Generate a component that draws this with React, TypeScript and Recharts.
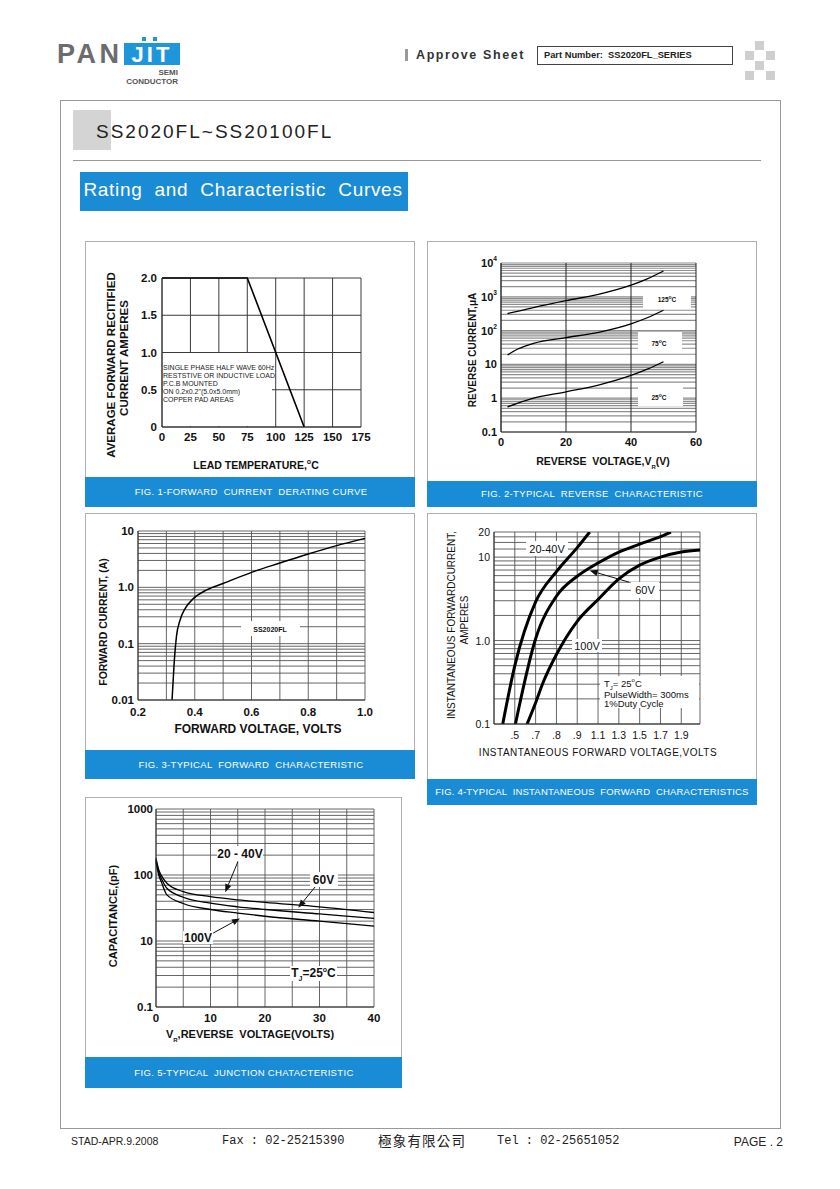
import React from 'react';
import { LineChart, Line, XAxis, YAxis, CartesianGrid, ReferenceLine } from 'recharts';

const SANS = '"Liberation Sans", Arial, Helvetica, sans-serif';
const BLUE = '#1a8cd6';

// ---------------- FIG 1 : forward current derating ----------------
const FIG1_TEMP_C = [0, 75, 125];
const FIG1_CURRENT_A = [2.0, 2.0, 0];
const FIG1_X_TICKS = [0, 25, 50, 75, 100, 125, 150, 175];
const FIG1_X_LABELS = ['0', '25', '50', '75', '100', '125', '150', '175'];
const FIG1_Y_TICKS = [0, 0.5, 1.0, 1.5, 2.0];
const FIG1_Y_LABELS = ['0', '0.5', '1.0', '1.5', '2.0'];
const FIG1_NOTE = [
  'SINGLE PHASE HALF WAVE 60Hz',
  'RESTSTIVE OR INDUCTIVE LOAD',
  'P.C.B MOUNTED',
  'ON 0.2x0.2"(5.0x5.0mm)',
  'COPPER PAD AREAS',
];

// ---------------- FIG 2 : reverse characteristic ----------------
const FIG2_VOLT = [2, 5, 10, 20, 30, 40, 45, 50];
const FIG2_I_125C = [320, 370, 480, 770, 1180, 2200, 3400, 5800];
const FIG2_I_75C = [19, 28, 42, 62, 89, 158, 240, 400];
const FIG2_I_25C = [0.55, 0.7, 1.0, 1.55, 2.45, 4.7, 7.2, 12];
const FIG2_X_TICKS = [0, 20, 40, 60];
const FIG2_X_LABELS = ['0', '20', '40', '60'];
const FIG2_Y_MAJOR = [0.1, 1, 10, 100, 1000, 10000];
const FIG2_Y_LABELS = ['0.1', '1', '10', '10^2', '10^3', '10^4'];

// ---------------- FIG 3 : forward characteristic ----------------
const FIG3_VOLT = [0.32, 0.327, 0.336, 0.348, 0.366, 0.395, 0.442, 0.5, 0.607, 0.7, 0.8, 0.9, 1.0];
const FIG3_CURRENT = [0.01, 0.042, 0.14, 0.26, 0.42, 0.63, 0.9, 1.17, 1.9, 2.7, 3.9, 5.5, 7.4];
const FIG3_X_TICKS = [0.2, 0.3, 0.4, 0.5, 0.6, 0.7, 0.8, 0.9, 1.0];
const FIG3_X_LABELS = ['0.2', '', '0.4', '', '0.6', '', '0.8', '', '1.0'];
const FIG3_Y_MAJOR = [0.01, 0.1, 1, 10];
const FIG3_Y_LABELS = ['0.01', '0.1', '1.0', '10'];

// ---------------- FIG 4 : instantaneous forward ----------------
const FIG4_TICK_VOLTS = [0.5, 0.7, 0.8, 0.9, 1.1, 1.3, 1.5, 1.7, 1.9];
const FIG4_TICK_LABELS = ['.5', '.7', '.8', '.9', '1.1', '1.3', '1.5', '1.7', '1.9'];
const FIG4_V_20_40 = [0.442, 0.5, 0.7, 0.8, 0.9, 1.02];
const FIG4_I_20_40 = [0.1, 0.5, 2.9, 6.7, 13, 20];
const FIG4_V_60 = [0.506, 0.7, 0.8, 0.9, 1.1, 1.3, 1.5, 1.7, 1.8];
const FIG4_I_60 = [0.1, 1.05, 3.4, 5.9, 8.5, 11.5, 14.3, 17.6, 20];
const FIG4_V_100 = [0.618, 0.7, 0.735, 0.8, 0.9, 1.1, 1.3, 1.5, 1.7, 1.9, 2.08];
const FIG4_I_100 = [0.1, 0.18, 0.31, 0.68, 1.7, 3.1, 5.5, 8.0, 10.0, 11.5, 12.2];
const FIG4_Y_MAJOR = [0.1, 1, 10, 20];
const FIG4_Y_LABELS = ['0.1', '1.0', '10', '20'];
const FIG4_ARROW_60V = { from: [1.40, 5.0], to: [1.02, 6.9] };

// ---------------- FIG 5 : junction capacitance ----------------
const FIG5_VOLT = [0, 0.5, 1, 2, 5, 10, 15, 20, 30, 40];
const FIG5_C_20_40V = [178, 120, 98, 75, 56, 47, 42, 38.5, 33, 27];
const FIG5_C_60V = [168, 110, 88, 63, 46, 37.5, 33, 30, 25.7, 22];
const FIG5_C_100V = [158, 100, 78, 50, 37, 30, 26.5, 23.7, 20, 16.8];
const FIG5_X_TICKS = [0, 5, 10, 15, 20, 25, 30, 35, 40];
const FIG5_X_LABELS = ['0', '', '10', '', '20', '', '30', '', '40'];
const FIG5_Y_MAJOR = [1, 10, 100, 1000];
const FIG5_Y_LABELS = ['0.1', '10', '100', '1000'];
const FIG5_ARROWS = [
  { from: [15.0, 157], to: [12.7, 55] },
  { from: [29.2, 66], to: [26.1, 32] },
  { from: [10.5, 13.2], to: [15.4, 22] },
];

// ---------------- helpers ----------------
const logGrid = (lo: number, hi: number, extra: number[] = []) => {
  const out: number[] = [];
  for (let d = lo; d < hi; d = +(d * 10).toPrecision(6)) {
    for (let m = 1; m < 10; m++) {
      const v = +(d * m).toPrecision(6);
      if (v < hi) out.push(v);
    }
  }
  out.push(hi);
  return [...out, ...extra].sort((a, b) => a - b);
};

const same = (a: number, b: number) => Math.abs(a - b) <= 1e-6 * Math.max(1, Math.abs(a));

type TS = { size: number; bold: boolean };

const makeYTick = (major: number[], labels: string[], ts: TS) => (props: any) => {
  const { x, y, payload } = props;
  const i = major.findIndex((t) => same(t, payload.value));
  if (i < 0 || !labels[i]) return <g />;
  const lab = labels[i];
  const parts = lab.split('^');
  return (
    <text x={x} y={y} textAnchor="end" dominantBaseline="central" fontSize={ts.size}
      fontWeight={ts.bold ? 700 : 400} fill="#111" fontFamily={SANS}>
      {parts[0]}
      {parts[1] ? <tspan dy={-5} fontSize={ts.size * 0.6}>{parts[1]}</tspan> : null}
    </text>
  );
};

const makeXTick = (ticks: number[], labels: string[], ts: TS) => (props: any) => {
  const { x, y, payload } = props;
  const i = ticks.findIndex((t) => same(t, payload.value));
  if (i < 0 || !labels[i]) return <g />;
  return (
    <text x={x} y={y} textAnchor="middle" dominantBaseline="central" fontSize={ts.size}
      fontWeight={ts.bold ? 700 : 400} fill="#111" fontFamily={SANS}>
      {labels[i]}
    </text>
  );
};

const arrowShape = (p: any) => {
  const { x1, y1, x2, y2 } = p;
  const ang = Math.atan2(y2 - y1, x2 - x1);
  const L = 8, W = 3.2;
  const bx = x2 - L * Math.cos(ang), by = y2 - L * Math.sin(ang);
  const px = -Math.sin(ang) * W, py = Math.cos(ang) * W;
  return (
    <g>
      <line x1={x1} y1={y1} x2={bx} y2={by} stroke="#111" strokeWidth={1} />
      <polygon points={`${x2},${y2} ${bx + px},${by + py} ${bx - px},${by - py}`} fill="#111" />
    </g>
  );
};

type Box = { x: number; y: number; w: number; h: number };
const YW = 50, MT = 10, MR = 10, XH = 30;

function ChartFrame({ box, children }: { box: Box; children: React.ReactNode }) {
  return (
    <div style={{ position: 'absolute', left: box.x - YW, top: box.y - MT }}>
      <LineChart width={box.w + YW + MR} height={box.h + MT + XH}
        margin={{ top: MT, right: MR, left: 0, bottom: 0 }}>
        {children}
      </LineChart>
    </div>
  );
}

function Txt({ x, y, children, size = 11, bold = false, rot = false, anchor = 'middle', color = '#111', ls = 0, family = SANS, style = {} }: any) {
  const tx = anchor === 'middle' ? '-50%' : anchor === 'end' ? '-100%' : '0';
  return (
    <div style={{
      position: 'absolute', left: x, top: y,
      transform: rot ? 'translate(-50%,-50%) rotate(-90deg)' : `translate(${tx},-50%)`,
      fontSize: size, fontWeight: bold ? 700 : 400, color, letterSpacing: ls,
      whiteSpace: 'pre', lineHeight: 1, fontFamily: family, ...style,
    }}>{children}</div>
  );
}

function WBox({ x, y, w, h }: any) {
  return <div style={{ position: 'absolute', left: x, top: y, width: w, height: h, background: '#fff' }} />;
}

function Panel({ x, y, w, h, barTop, caption, capX, ls = 0.35 }: any) {
  return (
    <>
      <div style={{ position: 'absolute', left: x, top: y, width: w, height: h, border: '1px solid #b0b0b0', boxSizing: 'border-box' }} />
      <div style={{ position: 'absolute', left: x, top: barTop, width: w, height: y + h - barTop, background: BLUE }} />
      <Txt x={capX} y={(barTop + y + h) / 2} size={9.5} color="#fff" ls={ls}>{caption}</Txt>
    </>
  );
}

const toPts = (xs: number[], ys: number[]) => xs.map((x, i) => ({ x, y: ys[i] }));

// ---------------- figures ----------------
function Fig1() {
  const box = { x: 162, y: 278, w: 199, h: 149 };
  const ts = { size: 11.5, bold: true };
  return (
    <ChartFrame box={box}>
      <CartesianGrid stroke="#3a3a3a" strokeWidth={1} />
      <XAxis type="number" dataKey="x" domain={[0, 175]} ticks={FIG1_X_TICKS} interval={0} height={XH}
        tickSize={0} tickMargin={10} tickLine={false} axisLine={{ stroke: '#333' }}
        tick={makeXTick(FIG1_X_TICKS, FIG1_X_LABELS, ts)} />
      <YAxis type="number" domain={[0, 2]} ticks={FIG1_Y_TICKS} interval={0} width={YW}
        tickSize={0} tickMargin={5} tickLine={false} axisLine={{ stroke: '#333' }}
        tick={makeYTick(FIG1_Y_TICKS, FIG1_Y_LABELS, ts)} />
      <Line data={toPts(FIG1_TEMP_C, FIG1_CURRENT_A)} dataKey="y" type="linear" stroke="#000"
        strokeWidth={1.6} dot={false} isAnimationActive={false} />
    </ChartFrame>
  );
}

function Fig2() {
  const box = { x: 501, y: 263, w: 195, h: 169 };
  const ts = { size: 11, bold: true };
  const grid = logGrid(0.1, 10000);
  return (
    <ChartFrame box={box}>
      <CartesianGrid vertical={false} stroke="#8e8e8e" strokeWidth={1.2} />
      <CartesianGrid horizontal={false} stroke="#222" strokeWidth={1} />
      <XAxis type="number" dataKey="x" domain={[0, 60]} ticks={FIG2_X_TICKS} interval={0} height={XH}
        tickSize={0} tickMargin={10} tickLine={false} axisLine={{ stroke: '#333' }}
        tick={makeXTick(FIG2_X_TICKS, FIG2_X_LABELS, ts)} />
      <YAxis type="number" scale="log" domain={[0.1, 10000]} allowDataOverflow ticks={grid} interval={0} width={YW}
        tickSize={0} tickMargin={4} tickLine={false} axisLine={{ stroke: '#333' }}
        tick={makeYTick(FIG2_Y_MAJOR, FIG2_Y_LABELS, ts)} />
      <Line data={toPts(FIG2_VOLT, FIG2_I_125C)} dataKey="y" type="monotone" stroke="#000" strokeWidth={1.3} dot={false} isAnimationActive={false} />
      <Line data={toPts(FIG2_VOLT, FIG2_I_75C)} dataKey="y" type="monotone" stroke="#000" strokeWidth={1.3} dot={false} isAnimationActive={false} />
      <Line data={toPts(FIG2_VOLT, FIG2_I_25C)} dataKey="y" type="monotone" stroke="#000" strokeWidth={1.3} dot={false} isAnimationActive={false} />
    </ChartFrame>
  );
}

function Fig3() {
  const box = { x: 138, y: 531, w: 227, h: 169 };
  const ts = { size: 11.5, bold: true };
  const grid = logGrid(0.01, 10);
  return (
    <ChartFrame box={box}>
      <CartesianGrid stroke="#555" strokeWidth={0.9} />
      <XAxis type="number" dataKey="x" domain={[0.2, 1.0]} ticks={FIG3_X_TICKS} interval={0} height={XH}
        tickSize={0} tickMargin={12} tickLine={false} axisLine={{ stroke: '#333' }}
        tick={makeXTick(FIG3_X_TICKS, FIG3_X_LABELS, ts)} />
      <YAxis type="number" scale="log" domain={[0.01, 10]} allowDataOverflow ticks={grid} interval={0} width={YW}
        tickSize={0} tickMargin={4} tickLine={false} axisLine={{ stroke: '#333' }}
        tick={makeYTick(FIG3_Y_MAJOR, FIG3_Y_LABELS, ts)} />
      <Line data={toPts(FIG3_VOLT, FIG3_CURRENT)} dataKey="y" type="monotone" stroke="#000" strokeWidth={1.5} dot={false} isAnimationActive={false} />
    </ChartFrame>
  );
}

// position on the non-linear (equally spaced tick) voltage axis of fig 4
const fig4Pos = (v: number) => {
  const tv = [0.4, ...FIG4_TICK_VOLTS, 2.1];
  for (let i = 0; i < tv.length - 1; i++) {
    if (v <= tv[i + 1] || i === tv.length - 2) return i + (v - tv[i]) / (tv[i + 1] - tv[i]);
  }
  return 0;
};

function Fig4() {
  const box = { x: 494, y: 532, w: 206, h: 192 };
  const ts = { size: 10.5, bold: false };
  const grid = logGrid(0.1, 20, [12.5, 15, 17.5]);
  const xTicks = [0, ...FIG4_TICK_VOLTS.map(fig4Pos), 9.9];
  const xLabels = ['', ...FIG4_TICK_LABELS, ''];
  const mk = (vs: number[], is: number[]) => vs.map((v, i) => ({ x: fig4Pos(v), y: is[i] }));
  return (
    <ChartFrame box={box}>
      <CartesianGrid stroke="#555" strokeWidth={0.9} />
      <XAxis type="number" dataKey="x" domain={[0, 9.9]} ticks={xTicks} interval={0} height={XH}
        tickSize={0} tickMargin={11} tickLine={false} axisLine={{ stroke: '#333' }}
        tick={makeXTick(xTicks, xLabels, ts)} />
      <YAxis type="number" scale="log" domain={[0.1, 20]} allowDataOverflow ticks={grid} interval={0} width={YW}
        tickSize={0} tickMargin={4} tickLine={false} axisLine={{ stroke: '#333' }}
        tick={makeYTick(FIG4_Y_MAJOR, FIG4_Y_LABELS, ts)} />
      <Line data={mk(FIG4_V_20_40, FIG4_I_20_40)} dataKey="y" type="monotone" stroke="#000" strokeWidth={3} dot={false} isAnimationActive={false} />
      <Line data={mk(FIG4_V_60, FIG4_I_60)} dataKey="y" type="monotone" stroke="#000" strokeWidth={3} dot={false} isAnimationActive={false} />
      <Line data={mk(FIG4_V_100, FIG4_I_100)} dataKey="y" type="monotone" stroke="#000" strokeWidth={3} dot={false} isAnimationActive={false} />
      <ReferenceLine
        segment={[
          { x: fig4Pos(FIG4_ARROW_60V.from[0]), y: FIG4_ARROW_60V.from[1] },
          { x: fig4Pos(FIG4_ARROW_60V.to[0]), y: FIG4_ARROW_60V.to[1] },
        ]}
        shape={arrowShape} ifOverflow="visible" />
    </ChartFrame>
  );
}

function Fig5() {
  const box = { x: 156, y: 809, w: 218, h: 198 };
  const ts = { size: 11.5, bold: true };
  const grid = logGrid(1, 1000);
  return (
    <ChartFrame box={box}>
      <CartesianGrid stroke="#555" strokeWidth={0.9} />
      <XAxis type="number" dataKey="x" domain={[0, 40]} ticks={FIG5_X_TICKS} interval={0} height={XH}
        tickSize={0} tickMargin={11} tickLine={false} axisLine={{ stroke: '#333' }}
        tick={makeXTick(FIG5_X_TICKS, FIG5_X_LABELS, ts)} />
      <YAxis type="number" scale="log" domain={[1, 1000]} allowDataOverflow ticks={grid} interval={0} width={YW}
        tickSize={0} tickMargin={3} tickLine={false} axisLine={{ stroke: '#333' }}
        tick={makeYTick(FIG5_Y_MAJOR, FIG5_Y_LABELS, ts)} />
      <Line data={toPts(FIG5_VOLT, FIG5_C_20_40V)} dataKey="y" type="monotone" stroke="#000" strokeWidth={1.3} dot={false} isAnimationActive={false} />
      <Line data={toPts(FIG5_VOLT, FIG5_C_60V)} dataKey="y" type="monotone" stroke="#000" strokeWidth={1.3} dot={false} isAnimationActive={false} />
      <Line data={toPts(FIG5_VOLT, FIG5_C_100V)} dataKey="y" type="monotone" stroke="#000" strokeWidth={1.3} dot={false} isAnimationActive={false} />
      {FIG5_ARROWS.map((a, i) => (
        <ReferenceLine key={i}
          segment={[{ x: a.from[0], y: a.from[1] }, { x: a.to[0], y: a.to[1] }]}
          shape={arrowShape} ifOverflow="visible" />
      ))}
    </ChartFrame>
  );
}

// ---------------- page ----------------
function Header() {
  const sq = [[755, 41], [745, 51], [766, 51], [755, 61], [766, 71], [745, 71]];
  return (
    <>
      <Txt x={57} y={54} size={27} bold anchor="start" color="#6b6c6e" ls={3.5}>PAN</Txt>
      <div style={{ position: 'absolute', left: 124, top: 43, width: 56, height: 22, background: '#1e97da' }} />
      <div style={{ position: 'absolute', left: 142, top: 37, width: 4, height: 4, background: '#1e97da' }} />
      <div style={{ position: 'absolute', left: 153, top: 37, width: 4, height: 4, background: '#1e97da' }} />
      <Txt x={152} y={55} size={22} bold color="#fff" ls={3}>JIT</Txt>
      <Txt x={178} y={73} size={8} bold anchor="end" color="#555">SEMI</Txt>
      <Txt x={178} y={82} size={8} bold anchor="end" color="#555">CONDUCTOR</Txt>

      <div style={{ position: 'absolute', left: 405, top: 49, width: 3, height: 12, background: '#999' }} />
      <Txt x={416} y={55} size={12.5} bold anchor="start" color="#333" ls={1.6}>Approve Sheet</Txt>
      <div style={{ position: 'absolute', left: 537, top: 46, width: 196, height: 19, border: '1px solid #444', boxSizing: 'border-box' }} />
      <Txt x={544} y={55.5} size={9.3} bold anchor="start" color="#222">{'Part Number:  SS2020FL_SERIES'}</Txt>
      {sq.map(([x, y], i) => (
        <div key={i} style={{ position: 'absolute', left: x, top: y, width: 9, height: 9, background: '#cfcfcf' }} />
      ))}

      <div style={{ position: 'absolute', left: 60, top: 100, width: 721, height: 1029, border: '1px solid #999', boxSizing: 'border-box' }} />
      <div style={{ position: 'absolute', left: 73, top: 110, width: 38, height: 40, background: '#d4d4d4' }} />
      <Txt x={96} y={131} size={19} anchor="start" color="#222" ls={2}>SS2020FL~SS20100FL</Txt>
      <div style={{ position: 'absolute', left: 73, top: 160, width: 688, height: 1, background: '#999' }} />
      <div style={{ position: 'absolute', left: 80, top: 172, width: 328, height: 39, background: BLUE }} />
      <Txt x={243} y={189} size={19} color="#fff" ls={0.7} style={{ wordSpacing: 6 }}>Rating and Characteristic Curves</Txt>
    </>
  );
}

function Footer() {
  return (
    <>
      <Txt x={71} y={1141} size={10.5} anchor="start" color="#222">STAD-APR.9.2008</Txt>
      <Txt x={222} y={1141} size={12} anchor="start" color="#222" family='"Liberation Mono", monospace'>Fax : 02-25215390</Txt>
      <Txt x={378} y={1141} size={13.5} anchor="start" color="#222" ls={1.2} family='"Noto Sans CJK TC", sans-serif'>極象有限公司</Txt>
      <Txt x={497} y={1141} size={12} anchor="start" color="#222" family='"Liberation Mono", monospace'>Tel : 02-25651052</Txt>
      <Txt x={783} y={1142} size={12} anchor="end" color="#222">PAGE . 2</Txt>
    </>
  );
}

export default function App() {
  return (
    <div style={{ position: 'absolute', left: 0, top: 0, width: 840, height: 1189, background: '#fff', overflow: 'hidden', fontFamily: SANS }}>
      <Header />

      {/* FIG 1 */}
      <Panel x={85} y={241} w={330} h={266} barTop={477} capX={251} caption={'FIG. 1-FORWARD  CURRENT  DERATING CURVE'} />
      <Fig1 />
      <WBox x={163} y={353} w={109} h={73} />
      {FIG1_NOTE.map((t, i) => (
        <Txt key={i} x={163} y={366.7 + i * 8} size={7} anchor="start" color="#222">{t}</Txt>
      ))}
      <Txt x={112} y={365} size={11.5} bold rot>AVERAGE FORWARD RECITIFIED</Txt>
      <Txt x={124.5} y={358} size={11.5} bold rot>CURRENT AMPERES</Txt>
      <Txt x={256} y={464} size={10.5} bold>LEAD TEMPERATURE,<sup style={{ fontSize: 7 }}>o</sup>C</Txt>

      {/* FIG 2 */}
      <Panel x={427} y={241} w={330} h={266} barTop={481} capX={592} caption={'FIG. 2-TYPICAL  REVERSE  CHARACTERISTIC'} />
      <Fig2 />
      <WBox x={643} y={293} w={48} h={15} />
      <Txt x={667} y={299} size={6.5} bold>125<sup style={{ fontSize: 5 }}>o</sup>C</Txt>
      <WBox x={638} y={332} w={44} h={20} />
      <Txt x={659} y={343} size={6.5} bold>75<sup style={{ fontSize: 5 }}>o</sup>C</Txt>
      <WBox x={638} y={386} w={45} h={20} />
      <Txt x={659} y={397} size={6.5} bold>25<sup style={{ fontSize: 5 }}>o</sup>C</Txt>
      <Txt x={473} y={350} size={10} bold rot>REVERSE CURRENT,μA</Txt>
      <Txt x={603} y={463} size={10.5} bold>{'REVERSE  VOLTAGE,V'}<sub style={{ fontSize: 6 }}>R</sub>(V)</Txt>

      {/* FIG 3 */}
      <Panel x={85} y={513} w={330} h={266} barTop={750} capX={251} caption={'FIG. 3-TYPICAL  FORWARD  CHARACTERISTIC'} />
      <Fig3 />
      <WBox x={241} y={621} w={59} h={15} />
      <Txt x={270} y={628.7} size={7} bold>SS2020FL</Txt>
      <Txt x={103} y={622} size={10.5} bold rot>FORWARD CURRENT, (A)</Txt>
      <Txt x={258} y={728.5} size={12} bold>FORWARD VOLTAGE, VOLTS</Txt>

      {/* FIG 4 */}
      <Panel x={427} y={513} w={330} h={292} barTop={779} capX={592} ls={0.2} caption={'FIG. 4-TYPICAL  INSTANTANEOUS  FORWARD  CHARACTERISTICS'} />
      <Fig4 />
      <WBox x={526} y={541} w={42} h={15} />
      <Txt x={547} y={548.5} size={11}>20-40V</Txt>
      <WBox x={631} y={582} w={28} h={16} />
      <Txt x={645} y={590} size={11}>60V</Txt>
      <WBox x={572} y={639} w={30} h={13} />
      <Txt x={587} y={646} size={11}>100V</Txt>
      <WBox x={600} y={676} w={99} h={32} />
      <Txt x={604} y={684} size={9.5} anchor="start">T<sub style={{ fontSize: 6 }}>J</sub>= 25<sup style={{ fontSize: 6 }}>o</sup>C</Txt>
      <Txt x={604} y={694.5} size={9.5} anchor="start">PulseWidth= 300ms</Txt>
      <Txt x={604} y={703.5} size={9.5} anchor="start">1%Duty Cycle</Txt>
      <Txt x={452} y={625} size={10} rot>INSTANTANEOUS FORWARDCURRENT,</Txt>
      <Txt x={465} y={620} size={10} rot>AMPERES</Txt>
      <Txt x={598} y={753} size={10} ls={0.5}>INSTANTANEOUS FORWARD VOLTAGE,VOLTS</Txt>

      {/* FIG 5 */}
      <Panel x={85} y={797} w={317} h={291} barTop={1057} capX={244} caption={'FIG. 5-TYPICAL  JUNCTION CHATACTERISTIC'} />
      <Fig5 />
      <WBox x={217} y={846} w={46} h={15} />
      <Txt x={240} y={853.5} size={12} bold>20 - 40V</Txt>
      <WBox x={310} y={872} w={28} h={15} />
      <Txt x={323.5} y={879.5} size={12} bold>60V</Txt>
      <WBox x={183} y={931} w={30} h={13} />
      <Txt x={198} y={937.5} size={12} bold>100V</Txt>
      <WBox x={290} y={966} w={47} h={15} />
      <Txt x={313.5} y={973.5} size={12} bold>T<sub style={{ fontSize: 7 }}>J</sub>=25<sup style={{ fontSize: 7 }}>o</sup>C</Txt>
      <Txt x={113} y={916} size={11} bold rot>CAPACITANCE,(pF)</Txt>
      <Txt x={250} y={1035.5} size={11} bold>V<sub style={{ fontSize: 6 }}>R</sub>{',REVERSE  VOLTAGE(VOLTS)'}</Txt>

      <Footer />
    </div>
  );
}
